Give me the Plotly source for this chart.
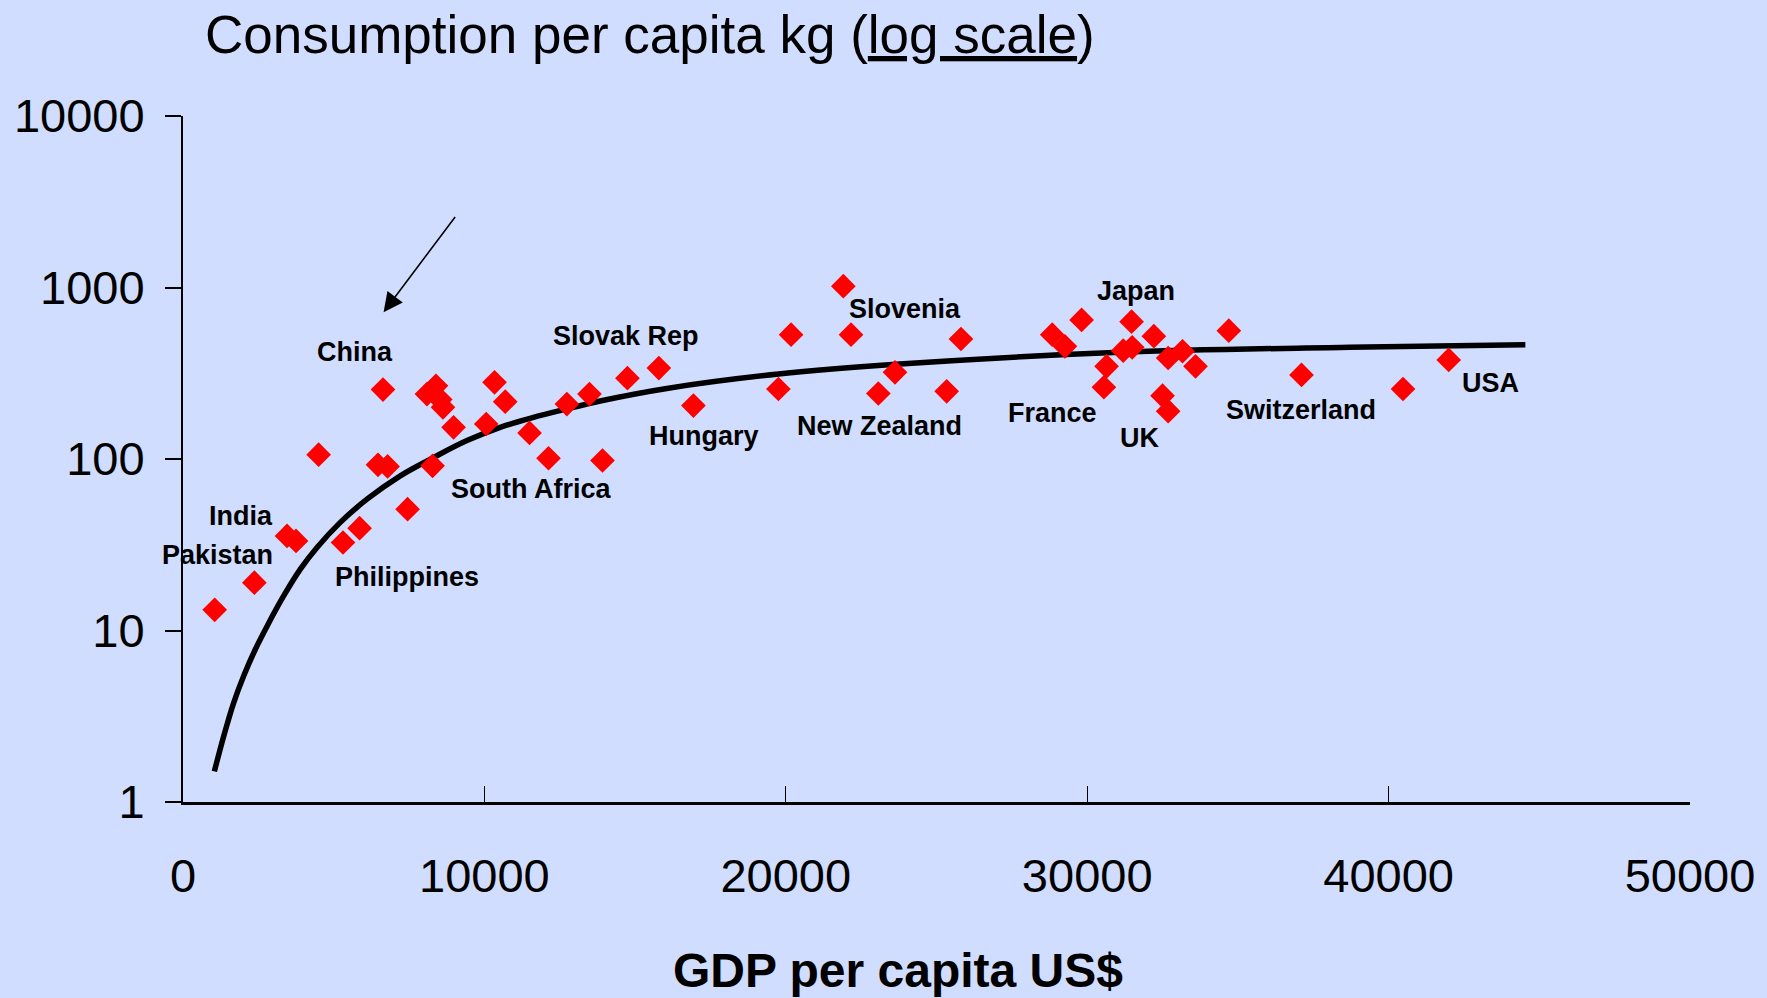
import numpy as np
import plotly.graph_objects as go

# GDP per capita (US$) and consumption per capita (kg) for each country diamond
gdp = [1051, 2368, 3452, 3750, 4500, 5309, 5859, 6469, 6788, 6635, 7451, 8094,
       8393, 8535, 8625, 8977, 8280, 10336, 10691, 10061, 11497, 12127, 12737,
       13486, 13918, 14746, 15788, 16935, 19754, 20175, 21909, 22164, 23070,
       23623, 25337, 25812, 28839, 29260, 29814, 30643, 30554, 31194, 31472,
       31492, 32212, 32686, 33163, 33594, 32500, 32686, 34699, 37110, 40478, 41994]
consumption = [13.2, 19.0, 35.6, 33.3, 106, 32.6, 39.5, 92.5, 90.5, 254, 51, 239,
               267, 222, 200, 153, 91.3, 280, 216, 160, 142, 101, 209,
               239, 98, 296, 339, 205, 256, 531, 1018, 531, 241,
               320, 248, 501, 531, 454, 647, 347, 262, 428, 632,
               448, 520, 388, 425, 347, 234, 190, 560, 309, 256, 378]

# Trend curve
trend_x = [1041, 1350, 1681, 2013, 2401, 2789, 3339, 3893, 4447, 5219, 6105, 7209,
           8313, 9421, 10525, 11629, 12737, 13841, 16052, 19754, 23785, 31090,
           38712, 44537]
trend_y = [1.51, 2.42, 3.79, 5.43, 7.77, 10.6, 15.9, 22.8, 30.5, 42.7, 58.3, 79.8,
           102, 128, 153, 175, 196, 218, 258, 313, 358, 419,
           448, 464]

# Country labels and where they sit (data coordinates)
label_names = ["China", "Slovak Rep", "Hungary", "South Africa", "Slovenia",
               "New Zealand", "Japan", "France", "UK", "Switzerland", "USA",
               "India", "Pakistan", "Philippines"]
label_x = [5717, 14703, 17273, 11553, 23955, 23093, 31631, 28863, 31747, 37086,
           43387, 1937, 1141, 7431]
label_y = [421, 522, 136, 66.7, 750, 156, 959, 185, 132, 194, 277, 46.4, 27.5, 20.5]

# Arrow (tail and tip, data coordinates)
arrow_tail = (9066, 2630)
arrow_tip = (6655, 718)

x_ticks = [0, 10000, 20000, 30000, 40000, 50000]
y_ticks = [1, 10, 100, 1000, 10000]

BG = "#D0DDFE"
FONT = "Liberation Sans, Arial, sans-serif"

fig = go.Figure()
fig.add_trace(go.Scatter(
    x=trend_x, y=trend_y, mode="lines",
    line=dict(color="black", width=5.5, shape="spline", smoothing=1),
    hoverinfo="skip", showlegend=False))
fig.add_trace(go.Scatter(
    x=gdp, y=consumption, mode="markers",
    marker=dict(symbol="diamond", size=19, color="#FF0000", line=dict(width=0)),
    showlegend=False))

annotations = []
for name, lx, ly in zip(label_names, label_x, label_y):
    annotations.append(dict(
        x=lx, y=np.log10(ly), xref="x", yref="y", text=name, showarrow=False,
        font=dict(family=FONT, size=27, color="black", weight="bold"),
        xanchor="center", yanchor="middle"))

annotations.append(dict(
    x=arrow_tip[0], y=np.log10(arrow_tip[1]), xref="x", yref="y",
    ax=arrow_tail[0], ay=np.log10(arrow_tail[1]), axref="x", ayref="y",
    text="", showarrow=True, arrowhead=2, arrowsize=2.4, arrowwidth=1.6,
    arrowcolor="black"))

annotations.append(dict(
    x=0.0135, y=1.119, xref="paper", yref="paper", xanchor="left", yanchor="middle",
    text="Consumption per capita kg (<u>log scale</u>)", showarrow=False,
    font=dict(family=FONT, size=53, color="black")))

annotations.append(dict(
    x=0.4742, y=-0.2454, xref="paper", yref="paper", xanchor="center", yanchor="middle",
    text="<b>GDP per capita US$</b>", showarrow=False,
    font=dict(family=FONT, size=48, color="black")))

fig.update_layout(
    width=1767, height=998,
    paper_bgcolor=BG, plot_bgcolor=BG,
    margin=dict(l=183, r=77, t=116, b=196, autoexpand=False),
    annotations=annotations,
    xaxis=dict(
        range=[0, 50000], tickvals=x_ticks, ticktext=[str(v) for v in x_ticks],
        showgrid=False, zeroline=False, showline=True, linecolor="black", linewidth=3,
        ticks="inside", ticklen=16, tickwidth=1.2, tickcolor="black", automargin=False,
        tickfont=dict(family=FONT, size=47, color="black"),
        ticklabelstandoff=31),
    yaxis=dict(
        type="log", range=[0, 4], tickvals=y_ticks, ticktext=[str(v) for v in y_ticks],
        showgrid=False, zeroline=False, showline=True, linecolor="black", linewidth=2,
        ticks="outside", ticklen=16, tickwidth=1.5, tickcolor="black", automargin=False,
        tickfont=dict(family=FONT, size=47, color="black"),
        ticklabelstandoff=11),
)

fig.write_html(
    "out.html",
    config={"displayModeBar": False},
    post_script="document.body.style.margin='0';document.body.style.background='%s';"
                "document.body.style.overflow='hidden';" % BG)
